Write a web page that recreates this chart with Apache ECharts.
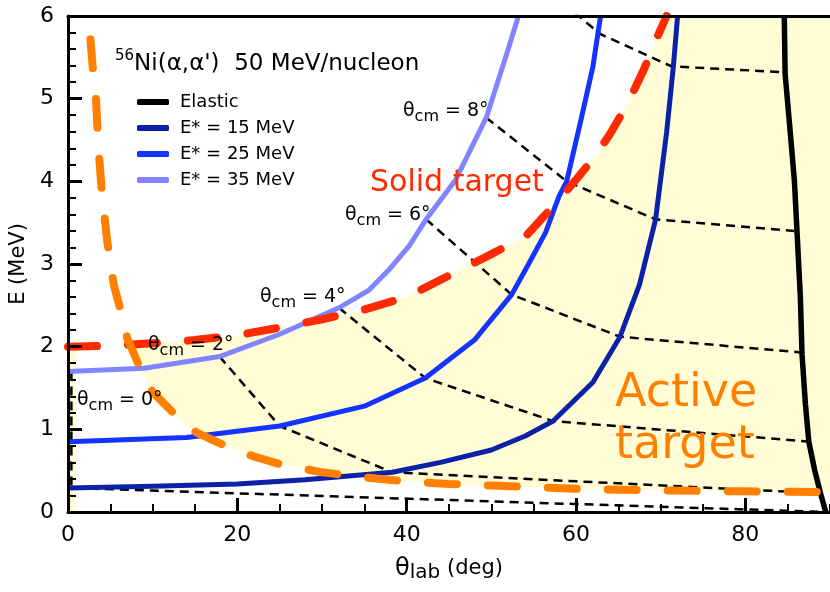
<!DOCTYPE html>
<html><head><meta charset="utf-8">
<script src="https://cdn.jsdelivr.net/npm/echarts@6/dist/echarts.min.js"></script>
<style>html,body{margin:0;padding:0;background:#fff}#c{width:830px;height:592px}</style>
</head><body><div id="c"></div>
<script>
// ---- data (θlab in deg, E in MeV) ----
const elastic = [[84.6,6.0],[84.7,5.3],[85.3,4.6],[85.8,4.0],[86.1,3.4],[86.5,2.6],[86.7,1.9],[87.1,1.3],[87.5,0.85],[88.2,0.5],[88.9,0.22],[89.5,0.0]];
const ex15 = [[0,0.29],[10,0.31],[20,0.34],[28,0.39],[38.3,0.48],[44,0.6],[50,0.75],[54,0.92],[57.3,1.1],[62,1.57],[65.2,2.12],[67.5,2.75],[69.4,3.54],[70.7,4.59],[71.5,5.39],[72,6.0]];
const ex25 = [[0,0.85],[14,0.9],[25,1.04],[35,1.28],[42.2,1.62],[48,2.08],[52.4,2.63],[54.4,3.0],[56.4,3.38],[58.0,3.82],[58.9,4.0],[60.6,4.75],[62,5.39],[62.9,6.0]];
const ex35 = [[0,1.7],[9,1.74],[17.9,1.88],[25,2.15],[32.0,2.47],[35.5,2.68],[37.9,2.93],[40.3,3.22],[42.3,3.54],[45.8,4.02],[49.4,4.77],[52,5.6],[53.2,6.0]];
const thetaCm0 = [[0.4,1.7],[0.4,0.85],[0.4,0.29],[89.5,0.0]];
const thetaCm2 = [[17.9,1.88],[25.0,1.04],[38.3,0.48],[88.3,0.23]];
const thetaCm4 = [[32.0,2.47],[42.2,1.62],[57.3,1.1],[87.8,0.85]];
const thetaCm6 = [[42.3,3.54],[52.4,2.63],[65.2,2.12],[86.6,1.93]];
const thetaCm8 = [[49.4,4.77],[58.9,4.0],[69.4,3.54],[85.8,3.4]];
const thetaCm10 = [[54.4,6.5],[62.9,5.78],[71.3,5.39],[84.7,5.32]];
const solidLimit = [[0,2.0],[5,2.01],[10,2.04],[15,2.08],[20,2.14],[25,2.23],[30,2.33],[35,2.45],[40,2.6],[45,2.86],[50,3.12],[54,3.33],[57.5,3.72],[60,4.02],[62,4.27],[64,4.57],[66,4.92],[68,5.35],[69.5,5.72],[70.7,6.0]];
const activeLimit = [[2.65,5.72],[2.9,5.4],[3.3,5.0],[3.6,4.4],[4.0,3.87],[4.6,3.3],[5.4,2.75],[6.3,2.41],[7.0,2.1],[8.6,1.72],[10,1.45],[13,1.14],[15.2,0.96],[19,0.78],[22,0.67],[25,0.58],[30,0.48],[35,0.42],[40,0.37],[45,0.34],[50,0.32],[55,0.3],[60,0.28],[70,0.26],[80,0.25],[90,0.24]];
const stripWidth = 0.9;
const xTicks = {min:0, max:90, major:20, minor:5};
const yTicks = {min:0, max:6, major:1};
const legendNames = ['Elastic','E* = 15 MeV','E* = 25 MeV','E* = 35 MeV'];
const thetaLabels = ['0','2','4','6','8'];

// ---- helpers ----
function interp(arr, x){
  for(let i=0;i<arr.length-1;i++){
    const a=arr[i], b=arr[i+1];
    if(x>=a[0] && x<=b[0]) return a[1]+(b[1]-a[1])*(x-a[0])/(b[0]-a[0]);
  }
  return NaN;
}
let cross = activeLimit[0][0];
for(let x=activeLimit[0][0]; x<30; x+=0.02){
  const o=interp(activeLimit,x), r=interp(solidLimit,x);
  if(!isNaN(o)&&!isNaN(r)&&o<=r){cross=x;break;}
}
const crossY = interp(solidLimit, cross);
const region = [[cross,crossY]]
  .concat(solidLimit.filter(p=>p[0]>cross))
  .concat([[xTicks.max,yTicks.max],[xTicks.max,activeLimit[activeLimit.length-1][1]]])
  .concat(activeLimit.filter(p=>p[0]>cross && p[0]<xTicks.max).reverse());
const strip = [[0,0],[stripWidth,0],[stripWidth,solidLimit[0][1]],[0,solidLimit[0][1]]];

const F = "'DejaVu Sans', sans-serif";
const YELLOW = '#fffcd6';
const chart = echarts.init(document.getElementById('c'), null, {renderer:'canvas'});

function solid(name, data, color, width){
  return {type:'line', name, data, showSymbol:false, symbol:'none', z:4, silent:true,
    itemStyle:{color}, lineStyle:{color, width, join:'round'}};
}
function dashed(data){
  return {type:'line', data, showSymbol:false, symbol:'none', z:3, silent:true,
    lineStyle:{color:'#000', width:2.5, type:[9,6]}};
}
function thick(name, data, color){
  return {type:'line', name, data, showSymbol:false, symbol:'none', z:5, silent:true,
    itemStyle:{color}, lineStyle:{color, width:8, type:[29,31], cap:'round'}};
}
function thetaText(x, y, deg){
  return {type:'text', x, y, z:100, style:{text:'{a|θ}{s|cm}{a| = '+deg+'°}', align:'left', verticalAlign:'middle',
    rich:{a:{fontSize:19, fontFamily:F, lineHeight:28, fill:'#000'}, s:{fontSize:16, fontFamily:F, lineHeight:12, verticalAlign:'bottom', fill:'#000'}}}};
}

const option = {
  animation:false,
  backgroundColor:'#fff',
  grid:{left:68, top:16, width:764, height:496},
  legend:{data:legendNames, orient:'vertical', left:132, top:88, itemWidth:32, itemHeight:6, itemGap:8,
    icon:'roundRect', selectedMode:false,
    textStyle:{fontSize:18, fontFamily:F, color:'#000', padding:[0,0,0,6]}},
  xAxis:[
    {type:'value', min:xTicks.min, max:xTicks.max, interval:xTicks.major, position:'bottom', z:10,
      axisLine:{show:true, onZero:false, lineStyle:{color:'#000', width:3}},
      axisTick:{show:true, inside:true, length:14, lineStyle:{color:'#000', width:3}},
      axisLabel:{fontSize:22, fontFamily:F, color:'#000', margin:12, showMaxLabel:false},
      splitLine:{show:false},
      name:'{a|θ}{s|lab}{b| (deg)}', nameLocation:'middle', nameGap:43,
      nameTextStyle:{rich:{a:{fontSize:24, fontFamily:F, lineHeight:28, color:'#000'}, s:{fontSize:20, fontFamily:F, lineHeight:12, verticalAlign:'bottom', color:'#000'}, b:{fontSize:21, fontFamily:F, lineHeight:28, color:'#000'}}}},
    {type:'value', min:xTicks.min, max:xTicks.max, interval:xTicks.minor, position:'bottom', offset:0, z:10,
      axisLine:{show:false}, axisLabel:{show:false}, splitLine:{show:false},
      axisTick:{show:true, inside:true, length:8, lineStyle:{color:'#000', width:2}}},
    {type:'value', min:xTicks.min, max:xTicks.max, position:'top', z:10,
      axisLine:{show:true, onZero:false, lineStyle:{color:'#000', width:3}},
      axisTick:{show:false}, axisLabel:{show:false}, splitLine:{show:false}}
  ],
  yAxis:{type:'value', min:yTicks.min, max:yTicks.max, interval:yTicks.major, z:10,
    axisLine:{show:true, onZero:false, lineStyle:{color:'#000', width:3}},
    axisTick:{show:true, inside:true, length:14, lineStyle:{color:'#000', width:3}},
    minorTick:{show:true, splitNumber:5, length:8, lineStyle:{color:'#000', width:2}},
    axisLabel:{fontSize:22, fontFamily:F, color:'#000', margin:14},
    splitLine:{show:false},
    name:'E (MeV)', nameLocation:'middle', nameGap:31, nameRotate:90,
    nameTextStyle:{fontSize:21, fontFamily:F, color:'#000'}},
  series:[
    {type:'custom', coordinateSystem:'cartesian2d', data:[[0,0]], silent:true, z:1,
      renderItem:(params, api)=>({type:'group', children:[region, strip].map(poly=>({
        type:'polygon', shape:{points:poly.map(p=>api.coord(p))}, style:{fill:YELLOW}}))})},
    dashed(thetaCm0), dashed(thetaCm2), dashed(thetaCm4), dashed(thetaCm6), dashed(thetaCm8), dashed(thetaCm10),
    solid(legendNames[0], elastic, '#000000', 5.5),
    solid(legendNames[1], ex15, '#0b22a8', 5),
    solid(legendNames[2], ex25, '#1433ff', 5),
    solid(legendNames[3], ex35, '#8084ff', 5),
    thick('Solid target limit', solidLimit, '#ff2a00'),
    thick('Active target limit', activeLimit, '#ff8000')
  ],
  graphic:[
    {type:'text', x:115, y:64, z:100, style:{text:'{s|56}{m|Ni(α,α\')  50 MeV/nucleon}', align:'left', verticalAlign:'middle',
      rich:{m:{fontSize:23, fontFamily:F, lineHeight:30, fill:'#000'}, s:{fontSize:15, fontFamily:F, lineHeight:14, verticalAlign:'top', fill:'#000'}}}},
    thetaText(403, 111, thetaLabels[4]),
    thetaText(345, 215, thetaLabels[3]),
    thetaText(260, 297, thetaLabels[2]),
    thetaText(148, 345, thetaLabels[1]),
    thetaText(77, 400, thetaLabels[0]),
    {type:'text', x:370, y:183, z:100, style:{text:'Solid target', fontSize:30, fontFamily:F, fill:'#ff2a00', align:'left', verticalAlign:'middle'}},
    {type:'text', x:615, y:394, z:100, style:{text:'Active', fontSize:46, fontFamily:F, fill:'#ff8000', align:'left', verticalAlign:'middle'}},
    {type:'text', x:615, y:446, z:100, style:{text:'target', fontSize:46, fontFamily:F, fill:'#ff8000', align:'left', verticalAlign:'middle'}}
  ]
};
chart.setOption(option);
</script>
</body></html>
